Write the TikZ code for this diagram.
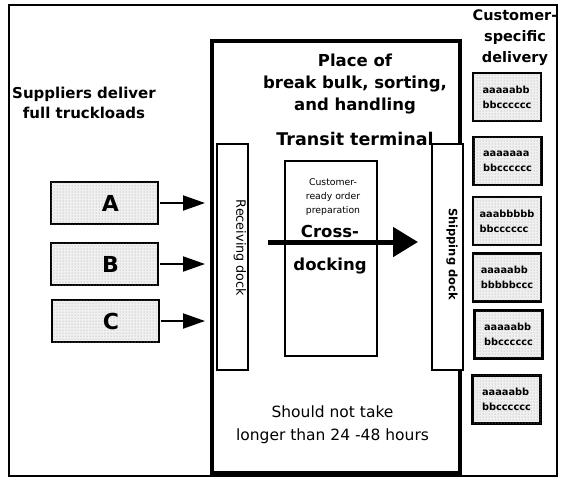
\documentclass[tikz,border=0pt]{standalone}
\usepackage{fontspec}
\setmainfont{DejaVu Sans}
\usetikzlibrary{arrows.meta,patterns}

\begin{document}
\begin{tikzpicture}[x=1pt, y=-1pt,
  every node/.style={inner sep=0pt, outer sep=0pt},
  heading/.style={font=\bfseries\fontsize{16.5}{22}\selectfont, align=center},
  dotted fill/.style={fill=gray!12, postaction={pattern=dots, pattern color=gray!75}},
  supplier/.style={draw, line width=2pt, dotted fill, minimum width=107, minimum height=42, font=\bfseries\fontsize{22}{22}\selectfont},
  custbox/.style={draw, line width=2.5pt, dotted fill, minimum width=68, minimum height=48, font=\bfseries\fontsize{9.8}{15}\selectfont, align=left},
  dock/.style={draw, fill=white, line width=2pt, minimum width=31, minimum height=226},
  feed/.style={line width=2pt, -{Triangle[length=22pt, width=15pt]}}]
  \useasboundingbox (0,0) rectangle (570,480);
  \node (frame) [draw, line width=1.5pt, minimum width=548, minimum height=471] at (283,240.5) {};
  \node (terminal) [draw, line width=4.5pt, minimum width=248, minimum height=432] at (336,257) {};
  % docks and preparation area
  \node (rdock) [dock] at (232.5,257) {};
  \node (sdock) [dock] at (447.5,256.5) {};
  \node (rlabel) [rotate=-90, font=\fontsize{12.8}{13}\selectfont] at (240,248) {Receiving dock};
  \node (slabel) [rotate=-90, font=\bfseries\fontsize{11.5}{12}\selectfont] at (452,254) {Shipping dock};
  \node (prep) [draw, line width=1.2pt, minimum width=92, minimum height=195] at (331,258.5) {};
  \node (preptext) [font=\fontsize{9.3}{14}\selectfont, align=center] at (333,197) {Customer-\\ready order\\preparation};
  \coordinate (xin) at (268,242);
  \coordinate (xout) at (418,242);
  \draw [line width=5pt, -{Triangle[length=25pt, width=29pt]}] (xin) -- (xout);
  \node (xdock) [font=\bfseries\fontsize{16.5}{33}\selectfont, align=center] at (330,250) {Cross-\\docking};
  % headings
  \node (place) [heading] at (355,84) {Place of\\break bulk, sorting,\\and handling};
  \node (transit) [heading, font=\bfseries\fontsize{17.5}{22}\selectfont] at (355,139) {Transit terminal};
  \node (suppliers) [heading, font=\bfseries\fontsize{15}{20}\selectfont] at (84,103) {Suppliers deliver\\full truckloads};
  \node (custhead) [heading, font=\bfseries\fontsize{14.5}{21}\selectfont] at (515,38) {Customer-\\specific\\delivery};
  \node (hours) [font=\fontsize{15.5}{23}\selectfont, align=center] at (332.5,425) {Should not take\\longer than 24 -48 hours};
  % suppliers
  \node (A) [supplier] at (104.5,203) {\hspace{12pt}A};
  \node (B) [supplier] at (104.5,264) {\hspace{12pt}B};
  \node (C) [supplier] at (105,321) {\hspace{12pt}C};
  \draw [feed, shorten <=2pt, shorten >=7pt] (A) -- (A -| terminal.west);
  \draw [feed, shorten <=2pt, shorten >=7pt] (B) -- (B -| terminal.west);
  \draw [feed, shorten <=2pt, shorten >=7pt] (C) -- (C -| terminal.west);
  % customer deliveries
  \node (c1) [custbox] at (507,97) {aaaaabb\\bbcccccc};
  \node (c2) [custbox] at (507.5,161) {aaaaaaa\\bbcccccc};
  \node (c3) [custbox] at (507,221) {aaabbbbb\\bbcccccc};
  \node (c4) [custbox] at (507,277.5) {aaaaabb\\bbbbbccc};
  \node (c5) [custbox] at (508.5,334.5) {aaaaabb\\bbcccccc};
  \node (c6) [custbox] at (506.5,399.5) {aaaaabb\\bbcccccc};
\end{tikzpicture}
\end{document}
